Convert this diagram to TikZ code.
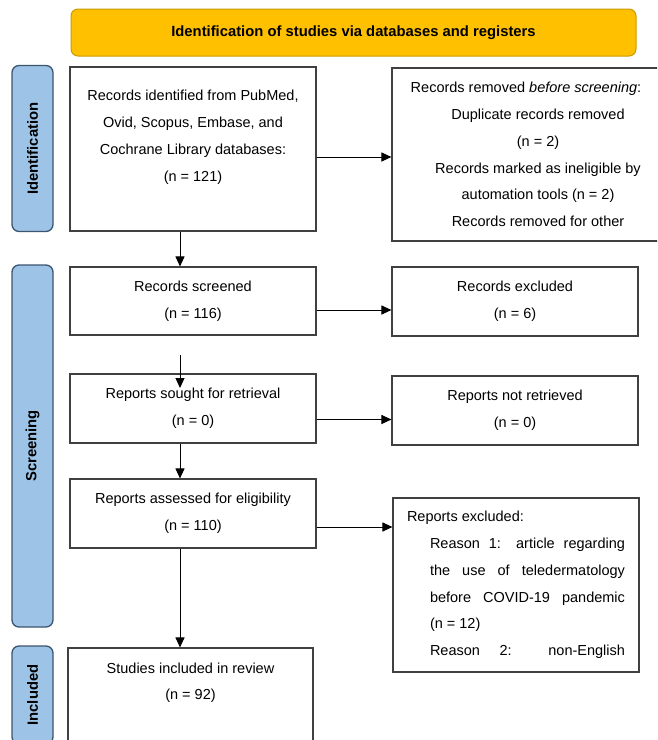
\documentclass[tikz,border=0pt]{standalone}
\usepackage{fontspec}
\setmainfont{Liberation Sans}
\usetikzlibrary{arrows.meta}
\definecolor{bannerfill}{HTML}{FFC000}
\definecolor{bannerline}{HTML}{C89B00}
\definecolor{sidefill}{HTML}{9DC3E6}
\definecolor{sideline}{HTML}{3C5570}

\begin{document}
\begin{tikzpicture}[x=1pt,y=-1pt,
  banner/.style={draw=bannerline,fill=bannerfill,line width=1pt,rounded corners=7pt,minimum width=565pt,minimum height=47pt,font=\fontsize{14.8}{16}\selectfont\bfseries},
  side/.style={draw=sideline,fill=sidefill,line width=1.3pt,rounded corners=7pt,rotate=90,minimum height=41pt,inner sep=0pt,font=\fontsize{14.8}{16}\selectfont\bfseries},
  box/.style={draw=black!75,line width=1.1pt,minimum width=246pt,align=center,inner sep=0pt,font=\fontsize{14.5}{26.8}\selectfont},
  arr/.style={-{Triangle[length=10pt,width=9pt]},line width=1pt}]
\useasboundingbox (0,0) rectangle (657,740);
\clip (0,0) rectangle (657,740);

%title
\node[banner] (title) at (353.5,32.5) {Identification of studies via databases and registers};

%side bars
\node[side,minimum width=166pt] (idside) at (32.5,148.5) {Identification};
\node[side,minimum width=362pt] (scside) at (32.5,446) {Screening};
\node[side,minimum width=98pt] (incside) at (32.5,695) {Included};

%Identification
\node[box,minimum height=164pt] (idbox) at (193,149) {Records identified from PubMed,\\Ovid, Scopus, Embase, and\\Cochrane Library databases:\\(n = 121)\\ \mbox{}};
\node[box,minimum width=292pt,minimum height=173pt] (removed) at (538,154.5) {Records removed \textit{before screening}:\hspace*{24pt}\mbox{}\\Duplicate records removed\\(n = 2)\\Records marked as ineligible by\\automation tools (n = 2)\\Records removed for other};

%Screening
\node[box,minimum height=68pt] (screened) at (193,301) {Records screened\\(n = 116)};
\node[box,minimum height=69pt] (excluded) at (515,301.5) {Records excluded\\(n = 6)};
\node[box,minimum height=69pt] (sought) at (193,408.5) {Reports sought for retrieval\\(n = 0)};
\node[box,minimum height=69pt] (notretr) at (515,410.5) {Reports not retrieved\\(n = 0)};
\node[box,minimum height=69pt] (assessed) at (193,513.5) {Reports assessed for eligibility\\(n = 110)};
\node[box,minimum height=174pt,align=left] (repexcl) at (516,585) {Reports excluded:\\
\hspace*{23pt}\makebox[195pt][s]{Reason 1: article regarding}\\
\hspace*{23pt}\makebox[195pt][s]{the use of teledermatology}\\
\hspace*{23pt}\makebox[195pt][s]{before COVID-19 pandemic}\\
\hspace*{23pt}(n = 12)\\
\hspace*{23pt}\makebox[195pt][s]{Reason 2: non-English}};

%Included
\node[box,minimum width=245pt,minimum height=120pt] (studies) at (190.5,708) {Studies included in review\\(n = 92)\\ \mbox{}\\ \mbox{}};

%arrows
\coordinate (spine) at (180,0);
\coordinate (gaptop) at (180,355);
\coordinate (gapend) at (180,388);
\draw[arr] (idbox.south -| spine) -- (screened.north -| spine);
\draw[arr] (gaptop) -- (gapend);
\draw[arr] (sought.south -| spine) -- (assessed.north -| spine);
\draw[arr] (assessed.south -| spine) -- (studies.north -| spine);
\draw[arr] ([yshift=-8pt]idbox.east) -- ([yshift=-8pt]idbox.east -| removed.west);
\draw[arr] ([yshift=-9pt]screened.east) -- ([yshift=-9pt]screened.east -| excluded.west);
\draw[arr] ([yshift=-11pt]sought.east) -- ([yshift=-11pt]sought.east -| notretr.west);
\draw[arr] ([yshift=-13.5pt]assessed.east) -- ([yshift=-13.5pt]assessed.east -| repexcl.west);
\end{tikzpicture}
\end{document}
